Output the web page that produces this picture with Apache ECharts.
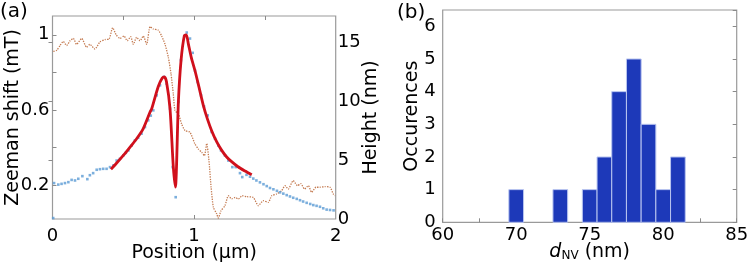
<!DOCTYPE html>
<html>
<head>
<meta charset="utf-8">
<script src="https://cdn.jsdelivr.net/npm/echarts@6/dist/echarts.min.js"></script>
<style>
html,body{margin:0;padding:0;background:#fff;}
#chart{width:748px;height:265px;}
</style>
</head>
<body>
<div id="chart"></div>
<script>
// ---- Panel (a): Zeeman shift data (blue dots) ----
const blueX = [0.005,0.011,0.041,0.064,0.088,0.112,0.135,0.159,0.182,0.211,0.246,0.264,0.287,0.312,0.335,0.358,0.382,0.406,0.43,0.453,0.476,0.5,0.518,0.536,0.558,0.582,0.605,0.629,0.653,0.676,0.694,0.712,0.736,0.759,0.787,0.806,0.83,0.849,0.87,0.889,0.907,0.931,0.948,0.971,0.99,1.006,1.025,1.049,1.07,1.096,1.124,1.148,1.171,1.19,1.218,1.242,1.27,1.294,1.324,1.34,1.37,1.395,1.418,1.44,1.465,1.49,1.513,1.536,1.56,1.585,1.607,1.63,1.654,1.677,1.70,1.725,1.748,1.77,1.795,1.82,1.842,1.865,1.889,1.912,1.936,1.96,1.985];
const blueY = [0.025,0.211,0.203,0.207,0.211,0.216,0.228,0.225,0.234,0.248,0.232,0.253,0.264,0.282,0.285,0.287,0.287,0.296,0.305,0.331,0.34,0.358,0.372,0.385,0.411,0.438,0.452,0.474,0.509,0.545,0.57,0.598,0.678,0.731,0.776,0.740,0.607,0.296,0.136,0.643,0.865,0.993,1.012,0.98,0.904,0.81,0.749,0.678,0.619,0.571,0.483,0.447,0.411,0.385,0.358,0.331,0.296,0.296,0.264,0.243,0.255,0.245,0.235,0.225,0.215,0.205,0.195,0.185,0.178,0.17,0.162,0.155,0.147,0.14,0.133,0.127,0.12,0.113,0.106,0.1,0.094,0.09,0.085,0.077,0.07,0.068,0.066];

// ---- Panel (a): fit (red) ----
const fitX = [0.413,0.45,0.5,0.55,0.594,0.64,0.689,0.70,0.747,0.775,0.79,0.805,0.83,0.853,0.868,0.889,0.908,0.931,0.945,0.959,0.98,1.006,1.035,1.065,1.095,1.124,1.16,1.195,1.23,1.265,1.31,1.36,1.407];
const fitY = [0.285,0.315,0.358,0.405,0.447,0.50,0.589,0.605,0.725,0.77,0.776,0.75,0.606,0.30,0.19,0.643,0.865,0.995,1.0,0.953,0.88,0.81,0.72,0.625,0.55,0.49,0.43,0.385,0.35,0.325,0.298,0.275,0.255];

// ---- Panel (a): height profile (brown dotted, right axis) ----
const heightX = [0.006,0.03,0.053,0.076,0.10,0.124,0.147,0.17,0.206,0.241,0.264,0.30,0.335,0.371,0.40,0.425,0.45,0.476,0.505,0.528,0.552,0.571,0.594,0.618,0.641,0.665,0.689,0.712,0.747,0.771,0.795,0.818,0.837,0.853,0.865,0.889,0.912,0.936,0.971,1.006,1.03,1.054,1.073,1.089,1.105,1.12,1.136,1.16,1.171,1.19,1.218,1.242,1.265,1.29,1.312,1.34,1.372,1.418,1.454,1.489,1.524,1.548,1.583,1.618,1.642,1.665,1.70,1.73,1.753,1.78,1.807,1.83,1.861,1.889,1.924,1.96,1.983,1.995];
const heightY = [14.2,14.3,14.7,15.05,14.7,15.1,15.3,14.8,15.3,14.55,14.8,14.4,15.0,15.2,15.25,16.2,15.6,15.3,15.5,15.1,15.45,14.8,15.4,15.1,15.5,14.8,16.3,16.1,16.0,15.5,14.8,13.7,12.3,10.6,9.2,8.9,8.05,7.5,7.35,6.36,5.93,5.65,5.36,6.4,4.94,2.69,1.0,0.42,0.08,0.7,1.13,1.97,1.7,1.83,1.7,1.97,1.89,1.83,1.13,1.55,1.41,1.97,2.12,2.4,2.82,2.54,3.25,2.82,3.0,2.54,2.82,2.26,2.69,2.69,2.74,2.69,2.12,1.97];

// ---- Panel (a): tick labels ----
const posTickValues = [0, 1, 2];
const zeemanTickValues = [0.2, 0.6, 1];
const zeemanMinorTicks = [0.2, 0.4, 0.6, 0.8, 1];
const heightTickValues = [0, 5, 10, 15];

// ---- Panel (b): histogram ----
const binCenters = [70, 73, 75, 76, 77, 78, 79, 80, 81];
const binCounts  = [1, 1, 1, 2, 4, 5, 3, 1, 2];
const histTickValues = [65, 70, 75, 80, 85];
const histTickLabels = ['60', '70', '75', '80', '85'];
const countTickValues = [0, 1, 2, 3, 4, 5, 6];

const FONT = 'DejaVu Sans';
const frameColor = '#9a9a9a';
const tickStyle = {show: true, inside: true, length: 4, lineStyle: {color: '#8a8a8a', width: 1}};

const chart = echarts.init(document.getElementById('chart'), null, {renderer: 'canvas'});

const option = {
  animation: false,
  backgroundColor: '#fff',
  textStyle: {fontFamily: FONT, color: '#000'},
  grid: [
    {left: 52.5, top: 16, width: 283.2, height: 203, show: true, borderColor: frameColor, borderWidth: 1.2, containLabel: false, outerBoundsMode: 'none'},
    {left: 442.7, top: 10, width: 294, height: 212.3, show: true, borderColor: frameColor, borderWidth: 1.2, containLabel: false, outerBoundsMode: 'none'}
  ],
  xAxis: [
    {type: 'value', gridIndex: 0, position: 'bottom', min: 0, max: 2,
     axisLine: {show: false}, splitLine: {show: false},
     axisTick: Object.assign({}, tickStyle, {customValues: [1]}),
     axisLabel: {customValues: posTickValues, fontFamily: FONT, fontSize: 18, color: '#000', margin: 8},
     name: 'Position (μm)', nameLocation: 'middle', nameGap: 25, nameMoveOverlap: false,
     nameTextStyle: {fontFamily: FONT, fontSize: 19, color: '#000'}},
    {type: 'value', gridIndex: 0, position: 'top', min: 0, max: 2,
     axisLine: {show: false}, splitLine: {show: false},
     axisTick: Object.assign({}, tickStyle, {customValues: [0.5, 1, 1.5]}),
     axisLabel: {show: false}},
    {type: 'value', gridIndex: 1, position: 'bottom', min: 65, max: 85, interval: 2.5,
     axisLine: {show: false}, splitLine: {show: false},
     axisTick: Object.assign({}, tickStyle),
     axisLabel: {customValues: histTickValues, fontFamily: FONT, fontSize: 18, color: '#000', margin: 4,
       formatter: function (v) { const i = histTickValues.indexOf(v); return i >= 0 ? histTickLabels[i] : ''; }},
     name: '{i|d}{s|NV} (nm)', nameLocation: 'middle', nameGap: 19, nameMoveOverlap: false,
     nameTextStyle: {fontFamily: FONT, fontSize: 19, color: '#000',
       rich: {i: {fontFamily: FONT, fontSize: 19, fontStyle: 'italic', color: '#000'},
              s: {fontFamily: FONT, fontSize: 12, color: '#000', padding: [9, 0, 0, 0]}}}}
  ],
  yAxis: [
    {type: 'value', gridIndex: 0, position: 'left', min: 0.02, max: 1.1,
     axisLine: {show: false}, splitLine: {show: false},
     axisTick: Object.assign({}, tickStyle, {customValues: zeemanMinorTicks}),
     axisLabel: {customValues: zeemanTickValues, fontFamily: FONT, fontSize: 18, color: '#000', margin: 3},
     name: 'Zeeman shift (mT)', nameLocation: 'middle', nameGap: 30, nameMoveOverlap: false,
     nameTextStyle: {fontFamily: FONT, fontSize: 19, color: '#000'}},
    {type: 'value', gridIndex: 0, position: 'right', min: 0, max: 17.2,
     axisLine: {show: false}, splitLine: {show: false},
     axisTick: Object.assign({}, tickStyle, {customValues: [5, 10, 15]}),
     axisLabel: {customValues: heightTickValues, fontFamily: FONT, fontSize: 18, color: '#000', margin: 2},
     name: 'Height (nm)', nameLocation: 'middle', nameGap: 26, nameRotate: 90, nameMoveOverlap: false,
     nameTextStyle: {fontFamily: FONT, fontSize: 19, color: '#000'}},
    {type: 'value', gridIndex: 1, position: 'left', min: 0, max: 6.5, interval: 1,
     axisLine: {show: false}, splitLine: {show: false},
     axisTick: {show: false},
     axisLabel: {customValues: countTickValues, fontFamily: FONT, fontSize: 18, color: '#000', margin: 7},
     name: 'Occurences', nameLocation: 'middle', nameGap: 21, nameMoveOverlap: false,
     nameTextStyle: {fontFamily: FONT, fontSize: 19, color: '#000'}},
    {type: 'value', gridIndex: 1, position: 'right', min: 0, max: 6.5, interval: 1,
     axisLine: {show: false}, splitLine: {show: false},
     axisTick: Object.assign({}, tickStyle),
     axisLabel: {show: false}}
  ],
  graphic: [
    {type: 'text', left: 0, top: 2, style: {text: '(a)', font: '20px "DejaVu Sans"', fill: '#000'}},
    {type: 'text', left: 397, top: 3, style: {text: '(b)', font: '20px "DejaVu Sans"', fill: '#000'}}
  ],
  series: [
    {type: 'line', name: 'height', xAxisIndex: 0, yAxisIndex: 1,
     data: heightX.map((x, i) => [x, heightY[i]]),
     showSymbol: false, smooth: 0.2,
     lineStyle: {color: '#c47a50', width: 1.3, type: [1.3, 1.2]}, z: 2},
    {type: 'scatter', name: 'data', xAxisIndex: 0, yAxisIndex: 0,
     data: blueX.map((x, i) => [x, blueY[i]]),
     symbol: 'rect', symbolSize: 2.6, itemStyle: {color: '#5b9bd5'}, z: 3},
    {type: 'line', name: 'fit', xAxisIndex: 0, yAxisIndex: 0,
     data: fitX.map((x, i) => [x, fitY[i]]),
     showSymbol: false, smooth: 0.25,
     lineStyle: {color: '#d0101c', width: 2.8}, z: 4},
    {type: 'custom', name: 'hist', xAxisIndex: 2, yAxisIndex: 2,
     data: binCenters.map((x, i) => [x, binCounts[i]]),
     renderItem: function (params, api) {
       const x = api.value(0), y = api.value(1);
       const p0 = api.coord([x - 0.5, y]);
       const p1 = api.coord([x + 0.5, 0]);
       return {type: 'rect', shape: {x: p0[0], y: p0[1], width: p1[0] - p0[0], height: p1[1] - p0[1]},
               style: {fill: '#1d39b9', stroke: '#b9c5f0', lineWidth: 1}};
     }, z: 3}
  ]
};
chart.setOption(option);
</script>
</body>
</html>
